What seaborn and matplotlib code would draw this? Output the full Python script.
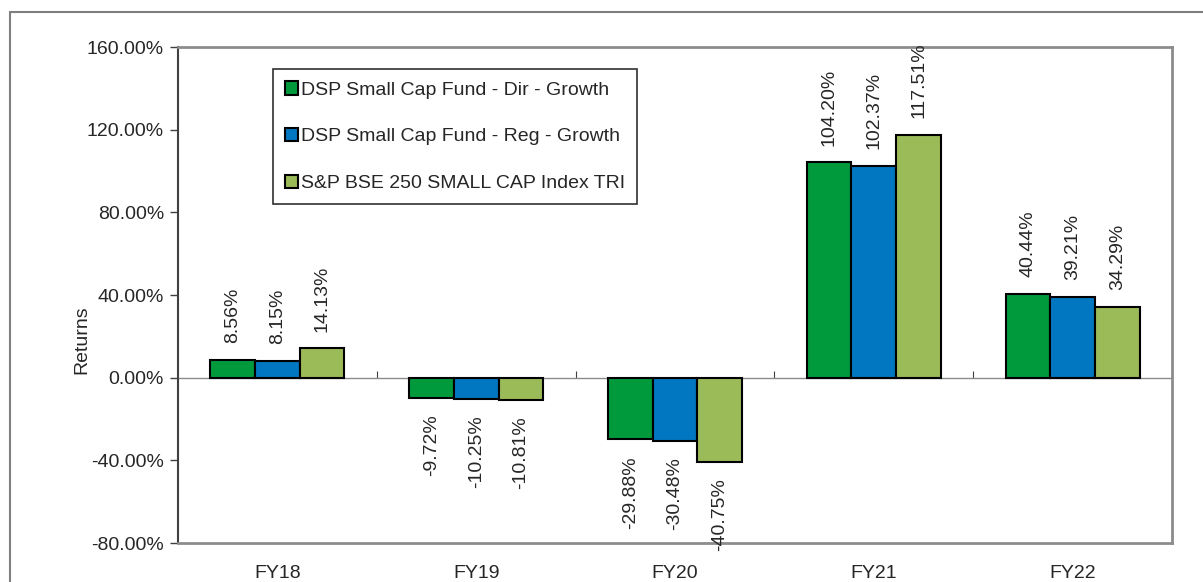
import pandas as pd
import matplotlib.pyplot as plt
import seaborn as sns
from matplotlib.lines import Line2D
from matplotlib.ticker import FuncFormatter, FixedLocator

# datos
anios = ["FY18", "FY19", "FY20", "FY21", "FY22"]
fondos = [
    "DSP Small Cap Fund - Dir - Growth",
    "DSP Small Cap Fund - Reg - Growth",
    "S&P BSE 250 SMALL CAP Index TRI",
]
ret_dir = [8.56, -9.72, -29.88, 104.20, 40.44]
ret_reg = [8.15, -10.25, -30.48, 102.37, 39.21]
ret_idx = [14.13, -10.81, -40.75, 117.51, 34.29]
colores = ["#009A3D", "#0077C0", "#9BBB59"]

df = pd.DataFrame({
    "anio": anios * 3,
    "fondo": [fondos[0]] * 5 + [fondos[1]] * 5 + [fondos[2]] * 5,
    "ret": ret_dir + ret_reg + ret_idx,
})

sns.set_style("white")
plt.rcParams["font.family"] = ["Liberation Sans", "DejaVu Sans"]
plt.rcParams["font.size"] = 14

fig = plt.figure(figsize=(12.03, 5.82), dpi=100)
ax = fig.add_axes([178 / 1203, 1 - 543 / 582, (1172 - 178) / 1203, (543 - 47) / 582])

sns.barplot(data=df, x="anio", y="ret", hue="fondo", palette=colores,
            saturation=1, width=0.675, edgecolor="black", linewidth=1.5, ax=ax)

ax.set_xlim(-0.5, 4.5)
ax.set_ylim(-80, 160)
ax.set_yticks([-80, -40, 0, 40, 80, 120, 160])
ax.yaxis.set_major_formatter(FuncFormatter(lambda v, p: f"{v:.2f}%"))
ax.tick_params(axis="y", direction="out", length=6, width=1, color="#404040",
               labelsize=14, left=True, pad=4)
ax.tick_params(axis="x", length=0, labelsize=14, pad=16)
ax.set_xlabel("")
ax.set_ylabel("Returns", fontsize=14)
ax.yaxis.set_label_coords(-0.088, 0.41)

for s in ax.spines.values():
    s.set_color("#8c8c8c")
    s.set_linewidth(2)
ax.spines["left"].set_color("#404040")
ax.spines["left"].set_linewidth(1.5)

# eje en cero con marcas entre categorias
sec = ax.secondary_xaxis(80 / 240)
sec.spines["bottom"].set_color("#8c8c8c")
sec.spines["bottom"].set_linewidth(1)
sec.xaxis.set_major_locator(FixedLocator([0.5, 1.5, 2.5, 3.5]))
sec.tick_params(direction="in", length=5, color="#404040", labelbottom=False)

# etiquetas de valores
for cont in ax.containers:
    ax.bar_label(cont, fmt="%.2f%%", rotation=90, padding=12, fontsize=14)

ax.legend(loc="upper left", bbox_to_anchor=(0.0956, 0.955), frameon=True,
          fancybox=False, edgecolor="#303030", framealpha=1, fontsize=14,
          handlelength=0.7, handleheight=0.7, handletextpad=0.15,
          labelspacing=1.5, borderpad=0.6, borderaxespad=0)
ax.get_legend().get_frame().set_linewidth(1.2)

# marco exterior
fig.add_artist(Line2D([10 / 1203, 1], [1 - 12 / 582, 1 - 12 / 582],
                      transform=fig.transFigure, color="#7f7f7f", lw=1.5))
fig.add_artist(Line2D([10 / 1203, 10 / 1203], [0, 1 - 12 / 582],
                      transform=fig.transFigure, color="#7f7f7f", lw=1.5))

fig.savefig("out.png", dpi=100)
